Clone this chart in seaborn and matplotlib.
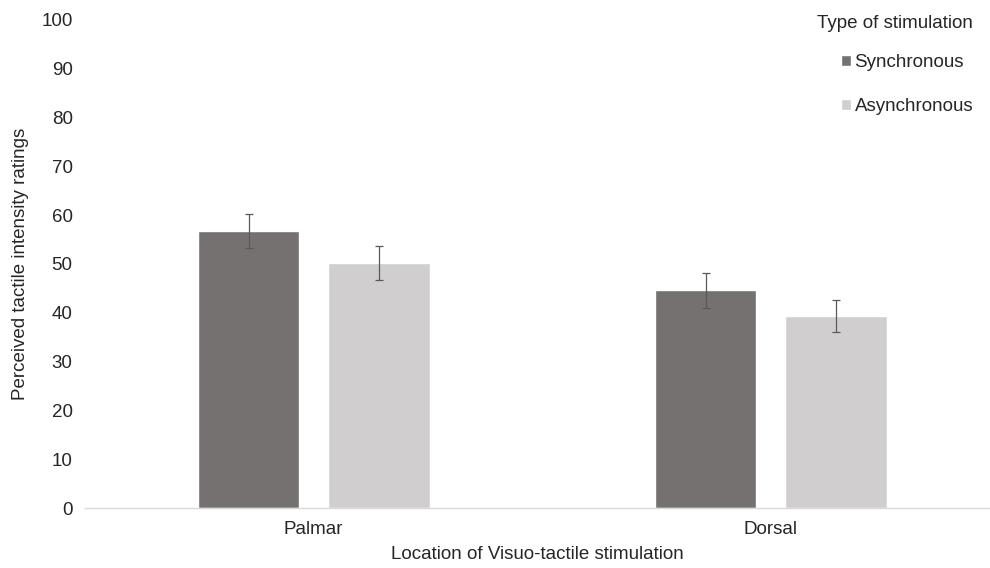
import numpy as np
import pandas as pd
import matplotlib
matplotlib.use("Agg")
import matplotlib.pyplot as plt
import seaborn as sns

# values
locations = ["Palmar", "Dorsal"]
stim_types = ["Synchronous", "Asynchronous"]
sync_means = [56.7, 44.6]
async_means = [50.2, 39.3]
sync_err = [3.5, 3.6]
async_err = [3.4, 3.25]

df = pd.DataFrame({
    "location": locations * 2,
    "stimulation": [stim_types[0]] * 2 + [stim_types[1]] * 2,
    "rating": sync_means + async_means,
})
errors = {stim_types[0]: sync_err, stim_types[1]: async_err}

sns.set_theme(style="white")
plt.rcParams["font.family"] = ["Liberation Sans", "DejaVu Sans"]

palette = {"Synchronous": "#767171", "Asynchronous": "#D0CECE"}
fs = 13.5

fig = plt.figure(figsize=(9.9, 5.68), dpi=100)
ax = fig.add_axes([0.086, 0.1056, 0.914, 0.8594])

sns.barplot(
    data=df,
    x="location",
    y="rating",
    hue="stimulation",
    hue_order=stim_types,
    order=locations,
    palette=palette,
    width=0.57,
    gap=0.22,
    errorbar=None,
    saturation=1,
    ax=ax,
)

# error bars on top of each bar
for container, stim in zip(ax.containers, stim_types):
    xs = [b.get_x() + b.get_width() / 2 for b in container]
    ys = [b.get_height() for b in container]
    ax.errorbar(xs, ys, yerr=errors[stim], fmt="none", ecolor="#595959",
                elinewidth=0.9, capsize=2.6, capthick=0.9)

ax.set_xlim(-0.5, 1.48)
ax.set_ylim(0, 100)
ax.set_yticks(np.arange(0, 101, 10))
ax.tick_params(axis="both", length=0, labelsize=fs, colors="#262626")
ax.tick_params(axis="y", pad=9)
ax.tick_params(axis="x", pad=9)
for side in ["top", "right", "left"]:
    ax.spines[side].set_visible(False)
ax.spines["bottom"].set_color("#D9D9D9")
ax.spines["bottom"].set_linewidth(1.0)

ax.set_xlabel("Location of Visuo-tactile stimulation", fontsize=fs,
              color="#262626", labelpad=6)
ax.set_ylabel("Perceived tactile intensity ratings", fontsize=fs,
              color="#262626", labelpad=9)

leg = ax.legend(
    title="Type of stimulation",
    loc="upper right",
    bbox_to_anchor=(1.0, 1.045),
    frameon=False,
    fontsize=fs,
    title_fontsize=fs,
    handlelength=0.5,
    handleheight=0.5,
    handletextpad=0.2,
    labelspacing=1.45,
    alignment="right",
)
# tighter gap between the title and the first entry
leg._legend_box.sep = 1.2 * fs
leg.get_title().set_color("#262626")
for t in leg.get_texts():
    t.set_color("#262626")

fig.savefig("out.png", dpi=100)
